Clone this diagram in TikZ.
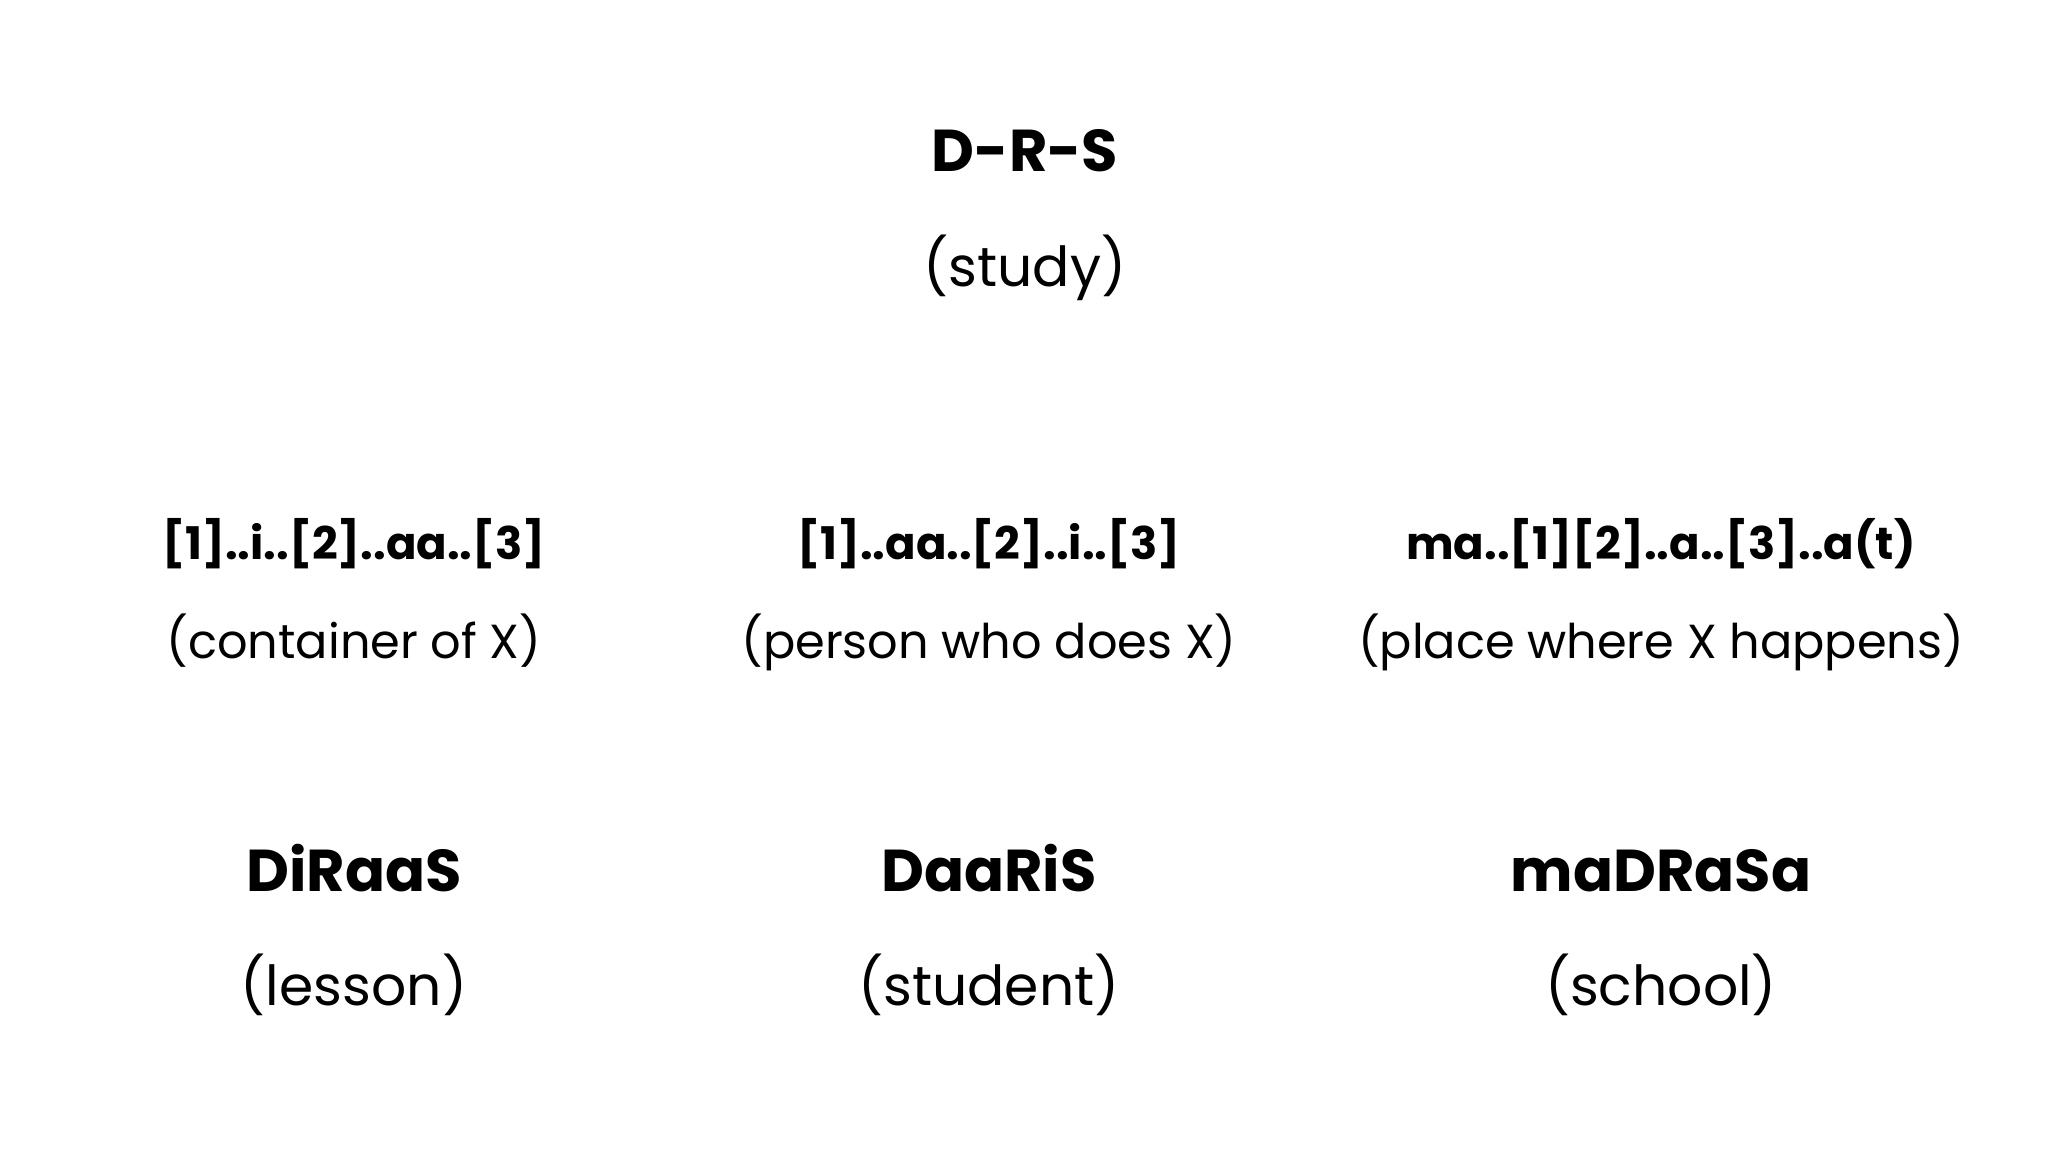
\documentclass[tikz,border=0pt]{standalone}
\usepackage{fontspec}
\setmainfont{Poppins}
\usepackage{tikz}
\tikzstyle{root}=[font=\fontsize{16.8}{19}\selectfont\bfseries,inner sep=0pt,anchor=base]
\tikzstyle{gloss}=[font=\fontsize{15.7}{18}\selectfont,inner sep=0pt,anchor=base]
\tikzstyle{pattern}=[font=\fontsize{12.8}{15}\selectfont\bfseries,inner sep=0pt,anchor=base]
\tikzstyle{meaning}=[font=\fontsize{13.6}{16}\selectfont,inner sep=0pt,anchor=base]

\begin{document}
\begin{tikzpicture}
        \useasboundingbox (0,0) rectangle (20.48,-11.52);

        \node at (10.25,-1.72) [root]  (drs)   {D-R-S};
        \node at (10.25,-2.87) [gloss] (study) {(study)};

        \node at (3.54,-5.60)  [pattern] (pat1) {[1]..i..[2]..aa..[3]};
        \node at (3.54,-6.59)  [meaning] (mng1) {(container of X)};
        \node at (9.89,-5.60)  [pattern] (pat2) {[1]..aa..[2]..i..[3]};
        \node at (9.89,-6.59)  [meaning] (mng2) {(person who does X)};
        \node at (16.61,-5.60) [pattern] (pat3) {ma..[1][2]..a..[3]..a(t)};
        \node at (16.61,-6.59) [meaning] (mng3) {(place where X happens)};

        \node at (3.54,-8.91)  [root]  (diraas)  {DiRaaS};
        \node at (3.54,-10.05) [gloss] (lesson)  {(lesson)};
        \node at (9.89,-8.91)  [root]  (daaris)  {DaaRiS};
        \node at (9.89,-10.05) [gloss] (student) {(student)};
        \node at (16.61,-8.91) [root]  (madrasa) {maDRaSa};
        \node at (16.61,-10.05) [gloss] (school) {(school)};
      \end{tikzpicture}
\end{document}
